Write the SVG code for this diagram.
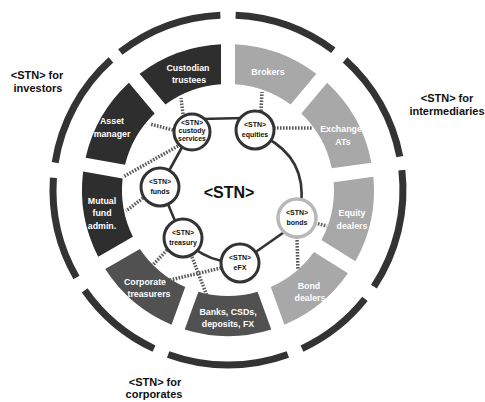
<svg xmlns="http://www.w3.org/2000/svg" width="485" height="402" viewBox="0 0 485 402">
<style>
.dark{fill:#2e2e2e}
.med{fill:#515151}
.light{fill:#a8a8a8}
.ring{fill:none;stroke:#333;stroke-width:7}
.loop{fill:none;stroke:#333;stroke-width:2.6}
.dash{fill:none;stroke:#5a5a5a;stroke-width:3.5;stroke-dasharray:1.6 1.4}
.node{fill:#fff;stroke:#333;stroke-width:3}
.nodeL{fill:#fff;stroke:#b8b8b8;stroke-width:3.5}
.sl{font-family:"Liberation Sans",Arial,sans-serif;font-weight:bold;font-size:8.8px;fill:#fff;text-anchor:middle}
.nl{font-family:"Liberation Sans",Arial,sans-serif;font-weight:bold;font-size:7px;fill:#111;text-anchor:middle}
.ol{font-family:"Liberation Sans",Arial,sans-serif;font-weight:bold;font-size:11px;fill:#111;text-anchor:middle}
.cl{font-family:"Liberation Sans",Arial,sans-serif;font-weight:bold;font-size:16px;fill:#111;text-anchor:middle}
</style>
<rect width="485" height="402" fill="#fff"/>
<g id="outer-ring">
<path class="ring" d="M120.26 52.10 A175 175 0 0 1 220.37 15.17"/>
<path class="ring" d="M235.63 15.17 A175 175 0 0 1 333.32 50.24"/>
<path class="ring" d="M345.10 59.95 A175 175 0 0 1 399.78 156.61"/>
<path class="ring" d="M401.87 170.19 A175 175 0 0 1 373.93 286.59"/>
<path class="ring" d="M364.96 298.94 A175 175 0 0 1 301.96 348.60"/>
<path class="ring" d="M287.85 354.45 A175 175 0 0 1 168.15 354.45"/>
<path class="ring" d="M154.04 348.60 A175 175 0 0 1 84.65 290.38"/>
<path class="ring" d="M76.45 277.5 A175 175 0 0 1 53.43 177.79"/>
<path class="ring" d="M55.15 162.63 A175 175 0 0 1 110.90 59.95"/>
</g>
<g id="brokers">
<path class="light" d="M235.0 44.17 A146 146 0 0 1 316.37 73.78 L290.62 104.48 A106 106 0 0 0 235.01 84.23 Z"/>
<text class="sl" x="268" y="75">Brokers</text>
</g>
<g id="exchange">
<path class="light" d="M327.11 82.79 A146 146 0 0 1 371.44 162.77 L331.76 168.34 A106 106 0 0 0 301.35 113.48 Z"/>
<text class="sl" x="341" y="132">Exchange</text>
<text class="sl" x="343" y="145">ATs</text>
</g>
<g id="equity">
<path class="light" d="M373.39 176.64 A146 146 0 0 1 355.39 261.34 L321.41 240.11 A106 106 0 0 0 333.71 182.22 Z"/>
<text class="sl" x="352" y="216">Equity</text>
<text class="sl" x="352" y="229">dealers</text>
</g>
<g id="bond">
<path class="light" d="M347.96 273.22 A146 146 0 0 1 284.46 324.64 L270.76 286.99 A106 106 0 0 0 313.98 252.0 Z"/>
<text class="sl" x="309" y="289">Bond</text>
<text class="sl" x="310" y="301">dealers</text>
</g>
<g id="banks">
<path class="med" d="M271.29 329.43 A146 146 0 0 1 184.71 329.43 L198.41 291.79 A106 106 0 0 0 257.59 291.79 Z"/>
<text class="sl" x="228" y="315">Banks, CSDs,</text>
<text class="sl" x="228" y="327">deposits, FX</text>
</g>
<g id="corporate">
<path class="med" d="M171.54 324.64 A146 146 0 0 1 105.21 268.98 L139.91 248.96 A106 106 0 0 0 185.24 286.99 Z"/>
<text class="sl" x="145" y="285">Corporate</text>
<text class="sl" x="149" y="297">treasurers</text>
</g>
<g id="mutual">
<path class="dark" d="M98.20 256.85 A146 146 0 0 1 83.17 171.57 L122.62 178.54 A106 106 0 0 0 132.89 236.81 Z"/>
<text class="sl" x="102" y="204">Mutual</text>
<text class="sl" x="102" y="216">fund</text>
<text class="sl" x="102" y="229">admin.</text>
</g>
<g id="asset">
<path class="dark" d="M85.60 157.78 A146 146 0 0 1 128.90 82.79 L154.65 113.48 A106 106 0 0 0 125.05 164.73 Z"/>
<text class="sl" x="112" y="124">Asset</text>
<text class="sl" x="112" y="137">manager</text>
</g>
<g id="custodian">
<path class="dark" d="M139.63 73.78 A146 146 0 0 1 221.0 44.17 L220.99 84.23 A106 106 0 0 0 165.38 104.48 Z"/>
<text class="sl" x="188" y="71">Custodian</text>
<text class="sl" x="189" y="83">trustees</text>
</g>
<g id="connectors">
<path class="loop" d="M200 119 L245 118"/>
<path class="loop" d="M265 137 C290 150 305 172 301 205"/>
<path class="loop" d="M290 228 L250 256"/>
<path class="loop" d="M232 262 Q212 262 192 247"/>
<path class="loop" d="M178 228 L165 197"/>
<path class="loop" d="M165 178 L186 140"/>
<path class="dash" d="M183 114 L181 98"/>
<path class="dash" d="M173 130 L150 124"/>
<path class="dash" d="M178 146 L123 177"/>
<path class="dash" d="M143 198 L126 211"/>
<path class="dash" d="M167 250 L152 266"/>
<path class="dash" d="M221 268 L170 280"/>
<path class="dash" d="M192 257 L207 296"/>
<path class="dash" d="M297 237 L298 270"/>
<path class="dash" d="M315 223 L327 226"/>
<path class="dash" d="M261 111 L262 92"/>
<path class="dash" d="M274 128 L313 128"/>
</g>
<g id="node-custody">
<circle class="node" cx="192" cy="132" r="18"/>
<text class="nl" x="192" y="125">&lt;STN&gt;</text>
<text class="nl" x="192" y="133">custody</text>
<text class="nl" x="192" y="141">services</text>
</g>
<g id="node-equities">
<circle class="node" cx="255" cy="130" r="19"/>
<text class="nl" x="255" y="127">&lt;STN&gt;</text>
<text class="nl" x="255" y="137">equities</text>
</g>
<g id="node-bonds">
<circle class="nodeL" cx="297" cy="218" r="19"/>
<text class="nl" x="297" y="215">&lt;STN&gt;</text>
<text class="nl" x="297" y="225">bonds</text>
</g>
<g id="node-efx">
<circle class="node" cx="240" cy="263" r="19"/>
<text class="nl" x="240" y="260">&lt;STN&gt;</text>
<text class="nl" x="240" y="270">eFX</text>
</g>
<g id="node-treasury">
<circle class="node" cx="183" cy="238" r="19"/>
<text class="nl" x="183" y="235">&lt;STN&gt;</text>
<text class="nl" x="183" y="245">treasury</text>
</g>
<g id="node-funds">
<circle class="node" cx="160" cy="187" r="19"/>
<text class="nl" x="160" y="184">&lt;STN&gt;</text>
<text class="nl" x="160" y="194">funds</text>
</g>
<g id="center-label">
<text class="cl" x="229" y="198">&lt;STN&gt;</text>
</g>
<g id="group-labels">
<text class="ol" x="37" y="79">&lt;STN&gt; for</text>
<text class="ol" x="38" y="92">investors</text>
<text class="ol" x="447" y="102">&lt;STN&gt; for</text>
<text class="ol" x="447" y="115">intermediaries</text>
<text class="ol" x="155" y="386">&lt;STN&gt; for</text>
<text class="ol" x="154" y="398">corporates</text>
</g>
</svg>
